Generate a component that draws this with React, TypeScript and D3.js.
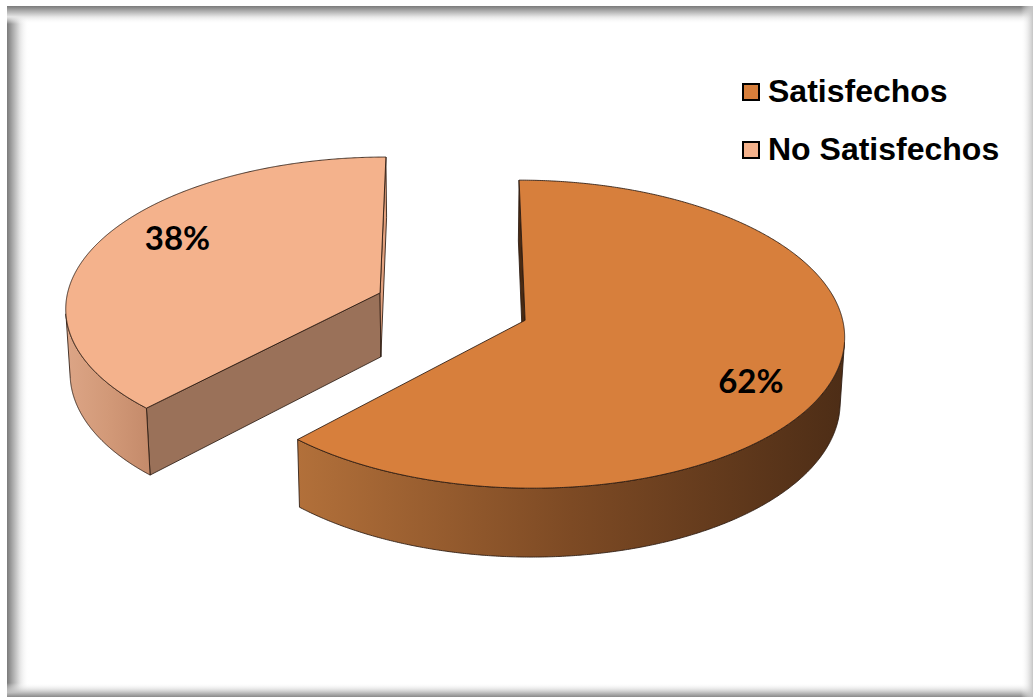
import React from 'react';
import * as d3 from 'd3';

// ---- data ----
const categories = ['Satisfechos', 'No Satisfechos'];
const values = [62, 38];
const valueLabels = ['62%', '38%'];
const topColors = ['#D77F3C', '#F4B28C'];
const wallStops = [
  ['#B2703A', '#7D4A24', '#4D2D16'],
  ['#DCA586', '#D29978', '#C48A6A'],
];
const startFaceColors = ['#4A2A12', '#9A7159'];
const endFaceColors = ['#4A2A12', '#E2A17E'];

// ---- geometry (perspective 3D pie) ----
const W = 1036, H = 700;
const R = 315, EXPLODE = 78, TH = 74;
const ELEV = (28.5 * Math.PI) / 180;
const SN = Math.sin(ELEV), CS = Math.cos(ELEV);
const DIST = 3104;
const SX0 = 452, SY0 = 306.5;
const CAM = [0, DIST * SN, DIST * CS];

function proj(x: number, y: number, z: number): [number, number] {
  const d = DIST - y * SN - z * CS;
  const u = y * CS - z * SN;
  return [SX0 + (DIST * x) / d, SY0 - (DIST * u) / d];
}
const dirOf = (phi: number) => [Math.sin(phi), -Math.cos(phi)];
function facing(nx: number, nz: number, px: number, py: number, pz: number) {
  return nx * (CAM[0] - px) + nz * (CAM[2] - pz) > 0;
}
const line = d3.line<[number, number]>();

export default function App() {
  const arcs = d3.pie<number>().sort(null).value((d) => d)(values);

  const slices = arcs.map((a, i) => {
    const s = a.startAngle, e = a.endAngle;
    const mid = (s + e) / 2;
    const [dx, dz] = dirOf(mid);
    const ox = EXPLODE * dx, oz = EXPLODE * dz;
    const rim = (phi: number, y: number) => proj(ox + R * Math.sin(phi), y, oz - R * Math.cos(phi));
    const apex = (y: number) => proj(ox, y, oz);
    const N = 600;
    const phis = d3.range(N + 1).map((k) => s + ((e - s) * k) / N);

    const top: [number, number][] = [apex(0), ...phis.map((p) => rim(p, 0))];

    const runs: number[][] = [];
    let cur: number[] | null = null;
    for (let k = 0; k < N; k++) {
      const pm = (phis[k] + phis[k + 1]) / 2;
      const vis = facing(Math.sin(pm), -Math.cos(pm), ox + R * Math.sin(pm), -TH / 2, oz - R * Math.cos(pm));
      if (vis) {
        if (!cur) { cur = [phis[k]]; runs.push(cur); }
        cur.push(phis[k + 1]);
      } else cur = null;
    }
    const walls = runs.map((run) => {
      const pts = [...run.map((p) => rim(p, 0)), ...run.slice().reverse().map((p) => rim(p, -TH))];
      const xs = pts.map((p) => p[0]);
      return { d: line(pts) + 'Z', x1: d3.min(xs)!, x2: d3.max(xs)! };
    });

    const faces: { d: string; fill: string }[] = [];
    const face = (phi: number, nphi: number, fill: string) => {
      const [nx, nz] = dirOf(nphi);
      const px = ox + (R / 2) * Math.sin(phi), pz = oz - (R / 2) * Math.cos(phi);
      if (facing(nx, nz, px, -TH / 2, pz)) {
        const pts = [apex(0), rim(phi, 0), rim(phi, -TH), apex(-TH)];
        faces.push({ d: line(pts) + 'Z', fill });
      }
    };
    face(s, s - Math.PI / 2, startFaceColors[i]);
    face(e, e + Math.PI / 2, endFaceColors[i]);

    const la = mid + (8 * Math.PI) / 180;
    const lp = proj(ox + 0.78 * R * Math.sin(la), 0, oz - 0.78 * R * Math.cos(la));

    const depth = oz;
    return { i, top: line(top) + 'Z', walls, faces, lp, depth };
  });

  const order = slices.slice().sort((a, b) => a.depth - b.depth);

  return (
    <svg width={W} height={H} style={{ position: 'absolute', left: 0, top: 0 }} xmlns="http://www.w3.org/2000/svg">
      <defs>
        <linearGradient id="bl" x1="0" x2="1" y1="0" y2="0">
          <stop offset="0" stopColor="#7a7a7a" />
          <stop offset="0.25" stopColor="#a8a8a8" />
          <stop offset="0.6" stopColor="#e6e6e6" />
          <stop offset="1" stopColor="#ffffff" stopOpacity="0" />
        </linearGradient>
        <linearGradient id="bt" x1="0" x2="0" y1="0" y2="1">
          <stop offset="0" stopColor="#7a7a7a" />
          <stop offset="0.25" stopColor="#a8a8a8" />
          <stop offset="0.6" stopColor="#e6e6e6" />
          <stop offset="1" stopColor="#ffffff" stopOpacity="0" />
        </linearGradient>
        <linearGradient id="bb" x1="0" x2="0" y1="1" y2="0">
          <stop offset="0" stopColor="#8a8a8a" />
          <stop offset="0.3" stopColor="#bdbdbd" />
          <stop offset="1" stopColor="#ffffff" stopOpacity="0" />
        </linearGradient>
        <linearGradient id="br" x1="1" x2="0" y1="0" y2="0">
          <stop offset="0" stopColor="#c4c4c4" />
          <stop offset="1" stopColor="#ffffff" stopOpacity="0" />
        </linearGradient>
        {slices.map((sl) =>
          sl.walls.map((w, j) => (
            <linearGradient key={`g${sl.i}-${j}`} id={`wg${sl.i}-${j}`} gradientUnits="userSpaceOnUse" x1={w.x1} x2={w.x2} y1={0} y2={0}>
              {wallStops[sl.i].map((c, k) => (
                <stop key={k} offset={k / (wallStops[sl.i].length - 1)} stopColor={c} />
              ))}
            </linearGradient>
          ))
        )}
      </defs>
      <rect x={0} y={0} width={W} height={H} fill="#ffffff" />
      <rect x={7} y={6} width={22} height={691} fill="url(#bl)" />
      <rect x={7} y={6} width={1026} height={18} fill="url(#bt)" />
      <rect x={7} y={683} width={1026} height={14} fill="url(#bb)" />
      <rect x={1021} y={6} width={12} height={691} fill="url(#br)" />

      {order.map((sl) => (
        <g key={sl.i} stroke="#2a1a10" strokeWidth={1} strokeLinejoin="round" strokeOpacity={0.85}>
          {sl.faces.map((f, j) => (
            <path key={`f${j}`} d={f.d} fill={f.fill} />
          ))}
          {sl.walls.map((w, j) => (
            <path key={`w${j}`} d={w.d} fill={`url(#wg${sl.i}-${j})`} />
          ))}
          <path d={sl.top} fill={topColors[sl.i]} />
        </g>
      ))}

      {slices.map((sl) => (
        <text
          key={`l${sl.i}`}
          x={sl.lp[0]}
          y={sl.lp[1] + 12}
          textAnchor="middle"
          fontFamily="Lato, 'Open Sans', sans-serif"
          fontWeight="bold"
          fontSize={33}
          fill="#000"
        >
          {valueLabels[sl.i]}
        </text>
      ))}

      {categories.map((c, i) => (
        <g key={c}>
          <rect x={743} y={84 + i * 58} width={16} height={16} fill={topColors[i]} stroke="#000" strokeWidth={2} />
          <text x={768} y={102 + i * 58} fontFamily="'Liberation Sans', Arial, sans-serif" fontWeight="bold" fontSize={32} fill="#000">
            {c}
          </text>
        </g>
      ))}
    </svg>
  );
}
